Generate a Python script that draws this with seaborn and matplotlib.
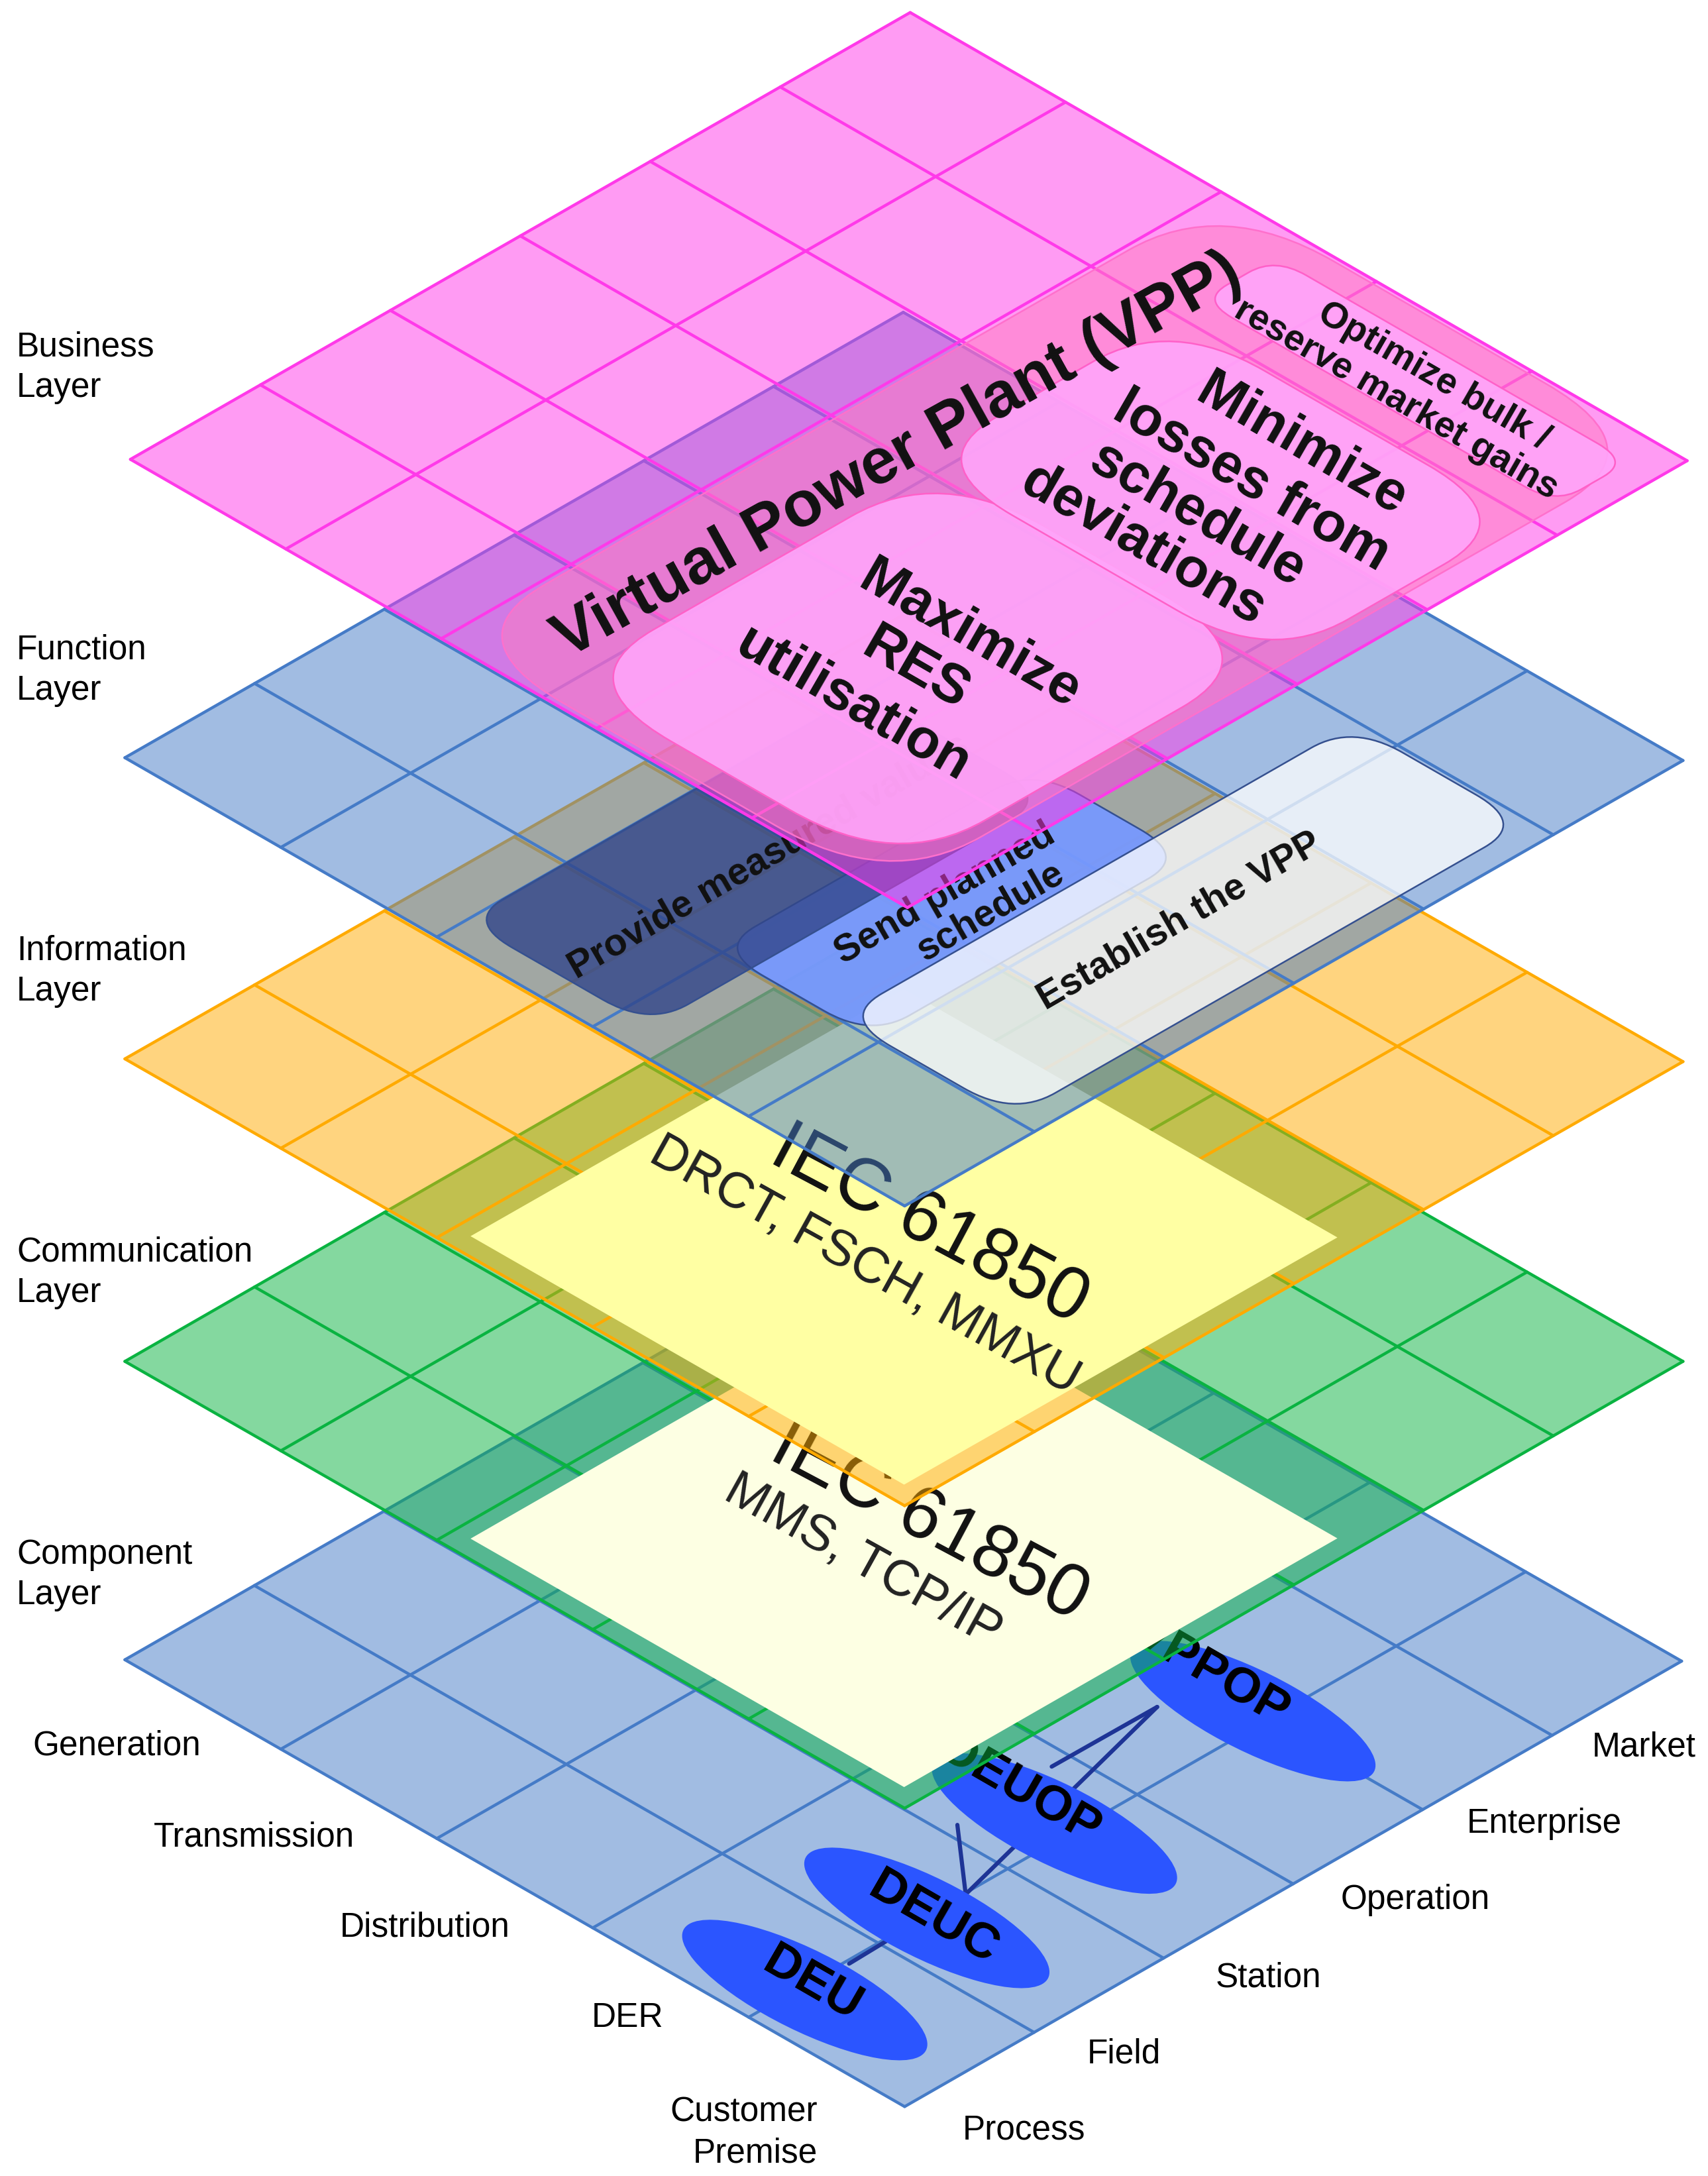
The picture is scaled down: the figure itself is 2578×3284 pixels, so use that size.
import matplotlib
matplotlib.use('Agg')
import matplotlib.pyplot as plt
import seaborn as sns
from matplotlib.patches import FancyBboxPatch, Ellipse, Polygon
from matplotlib.transforms import Affine2D

sns.set_theme(style='white')
plt.rcParams['font.family'] = ['Liberation Sans', 'DejaVu Sans']

# layers, from the bottom of the stack to the top
layer_names = ['Component\nLayer', 'Communication\nLayer', 'Information\nLayer', 'Function\nLayer', 'Business\nLayer']
layer_colors = ['#457BC7', '#0AB341', '#FFAA00', '#457BC7', '#FF39E9']
bottom_x = [652, 652, 652, 652, 654]
bottom_y = [1518, 1303, 1085, 869, 654]
right_x = [1212, 1213, 1213, 1213, 1216]
right_y = [1197, 981, 765, 548, 332]
left_x = [90, 90, 90, 90, 94]
left_y = [1196, 981, 763, 546, 331]
label_y = [1135, 917, 700, 483, 265]

n_zones = 6
n_domains = 5

domain_labels = ['Generation', 'Transmission', 'Distribution', 'DER']
domain_label_x = [84, 183, 306, 452]
domain_label_y = [1258, 1324, 1389, 1454]
zone_labels = ['Process', 'Field', 'Station', 'Operation', 'Enterprise', 'Market']
zone_label_x = [738, 810, 914, 1020, 1113, 1185]
zone_label_y = [1535, 1480, 1425, 1369, 1314, 1259]

# ellipses on the component layer
node_names = ['DEU', 'DEUC', 'DEUOP', 'VPPOP']
node_x = [580, 668, 760, 903]
node_y = [1434, 1382, 1314, 1233]
node_text_x = [585, 673, 735, 873]
node_text_y = [1430, 1382, 1290, 1205]
link_x = [[612, 640], [696, 834], [690, 696], [758, 834]]
link_y = [[1415, 1398], [1365, 1230], [1315, 1365], [1273, 1230]]

# boxes in grid units: zone from, zone to, domain from, domain to, corner radius
vpp_box = [0.04, 5.97, 0.16, 2.97, 0.72]
goal_boxes = [[0.2, 3.08, 0.24, 2.37, 0.68], [3.03, 4.97, 0.2, 2.46, 0.6], [5.2, 5.77, 0.18, 2.46, 0.2]]
goal_lines = ['Maximize', 'RES', 'utilisation', 'Minimize', 'losses from', 'schedule', 'deviations',
              'Optimize bulk /', 'reserve market gains']
goal_line_x = [699, 660, 615, 938, 902, 863, 824, 1033, 1006]
goal_line_y = [458, 482, 508, 321, 347, 371, 393, 271, 288]
goal_size = [60, 60, 60, 60, 60, 60, 60, 40, 40]
func_boxes = [[1.0, 3.44, 1.05, 2.04, 0.3], [0.22, 3.3, 1.82, 3.0, 0.3], [1.02, 4.97, 0.15, 1.26, 0.32]]
func_colors = ['#7799FF', '#32468A', '#FFFFFF']
func_alpha = [0.95, 0.8, 0.75]
func_lines = ['Send planned', 'schedule', 'Provide measured values', 'Establish the VPP']
func_line_x = [681, 714, 554, 850]
func_line_y = [644, 657, 617, 664]

# plain standard panels: zones, domains, first line, second line
std_box = [0.14, 3.48, 0.12, 2.9]
std_colors = ['#FDFFE3', '#FFFFA3']
std_title = 'IEC 61850'
std_detail = ['MMS, TCP/IP', 'DRCT, FSCH, MMXU']
std_title_y = [1097, 883]
std_detail_x = [622, 623]
std_detail_y = [1125, 912]

fig = plt.figure(figsize=(25.78, 32.84), dpi=100)
ax = fig.add_axes([0, 0, 1, 1])
ax.set_xlim(0, 1231)
ax.set_ylim(1568, 0)
ax.set_autoscale_on(False)
ax.axis('off')


def layer_tf(i):
    ez = ((right_x[i] - bottom_x[i]) / n_zones, (right_y[i] - bottom_y[i]) / n_zones)
    ed = ((left_x[i] - bottom_x[i]) / n_domains, (left_y[i] - bottom_y[i]) / n_domains)
    return Affine2D.from_values(ez[0], ez[1], ed[0], ed[1], bottom_x[i], bottom_y[i])


def round_box(i, box, zorder, **kw):
    tf = layer_tf(i) + ax.transData
    patch = FancyBboxPatch((box[0], box[2]), box[1] - box[0], box[3] - box[2],
                           boxstyle='round,pad=0,rounding_size=%s' % box[4],
                           transform=tf, zorder=zorder, **kw)
    ax.add_patch(patch)


for i in range(len(layer_names)):
    base = 10 * (i + 1)
    tf = layer_tf(i)
    color = layer_colors[i]
    ax.add_patch(Polygon([(0, 0), (n_zones, 0), (n_zones, n_domains), (0, n_domains)],
                         transform=tf + ax.transData, facecolor=color, alpha=0.5,
                         edgecolor='none', zorder=base))
    # grid lines
    for z in range(n_zones + 1):
        pts = tf.transform([(z, 0), (z, n_domains)])
        sns.lineplot(x=pts[:, 0], y=pts[:, 1], ax=ax, color=color, linewidth=3.2, sort=False,
                     errorbar=None, legend=False, zorder=base + 1)
    for d in range(n_domains + 1):
        pts = tf.transform([(0, d), (n_zones, d)])
        sns.lineplot(x=pts[:, 0], y=pts[:, 1], ax=ax, color=color, linewidth=3.2, sort=False,
                     errorbar=None, legend=False, zorder=base + 1)
    ax.text(12, label_y[i], layer_names[i], fontsize=37, color='black', ha='left', va='center',
            linespacing=1.32, zorder=100)

# component layer nodes
for xs, ys in zip(link_x, link_y):
    sns.lineplot(x=xs, y=ys, ax=ax, color='#1E3496', linewidth=4.5, sort=False, errorbar=None,
                 legend=False, zorder=13)
tf0 = layer_tf(0)
for k in range(len(node_names)):
    centre = tf0.inverted().transform((node_x[k], node_y[k]))
    ax.add_patch(Ellipse(centre, 0.64, 1.48, transform=tf0 + ax.transData, facecolor='#2B55FF',
                         edgecolor='none', zorder=14))
    ax.text(node_text_x[k], node_text_y[k], node_names[k], fontsize=54, fontweight='bold', color='black',
            rotation=-30, rotation_mode='anchor', ha='center', va='center', zorder=15)

# standard panels on communication and information layers
for j, i in enumerate([1, 2]):
    base = 10 * (i + 1)
    ax.add_patch(Polygon([(std_box[0], std_box[2]), (std_box[1], std_box[2]),
                          (std_box[1], std_box[3]), (std_box[0], std_box[3])],
                         transform=layer_tf(i) + ax.transData, facecolor=std_colors[j],
                         edgecolor='none', zorder=base + 2))
    ax.text(670, std_title_y[j], std_title, fontsize=80, color='#111111', rotation=-28,
            rotation_mode='anchor', ha='center', va='center', zorder=base + 3)
    ax.text(std_detail_x[j], std_detail_y[j], std_detail[j], fontsize=55, color='#222222', rotation=-29,
            rotation_mode='anchor', ha='center', va='center', zorder=base + 3)

# function layer boxes
for k in range(len(func_boxes)):
    round_box(3, func_boxes[k], 42 + k, facecolor=func_colors[k] + '%02X' % int(func_alpha[k] * 255),
              edgecolor='#35508F', linewidth=1.8)
for k in range(len(func_lines)):
    ax.text(func_line_x[k], func_line_y[k], func_lines[k], fontsize=41, fontweight='bold', color='#111111',
            rotation=30, rotation_mode='anchor', ha='center', va='center', zorder=46)

# business layer boxes
round_box(4, vpp_box, 52, facecolor='#FF7CC080', edgecolor='#FF70CC', linewidth=1.8)
for k in range(len(goal_boxes)):
    round_box(4, goal_boxes[k], 53, facecolor='#FFA5FAE6', edgecolor='#FF60C8', linewidth=1.8)
for k in range(len(goal_lines)):
    ax.text(goal_line_x[k], goal_line_y[k], goal_lines[k], fontsize=goal_size[k], fontweight='bold',
            color='#111111', rotation=-30, rotation_mode='anchor', ha='center', va='center', zorder=54)
ax.text(647, 329, 'Virtual Power Plant (VPP)', fontsize=70, fontweight='bold', color='#111111', rotation=29,
        rotation_mode='anchor', ha='center', va='center', zorder=54)

# axis labels
for name, x, y in zip(domain_labels, domain_label_x, domain_label_y):
    ax.text(x, y, name, fontsize=37, ha='center', va='center', color='black', zorder=100)
for name, x, y in zip(zone_labels, zone_label_x, zone_label_y):
    ax.text(x, y, name, fontsize=37, ha='center', va='center', color='black', zorder=100)
ax.text(589, 1537, 'Customer\nPremise', fontsize=37, ha='right', va='center', multialignment='right',
        linespacing=1.32, color='black', zorder=100)

fig.savefig('out.png', dpi=100, facecolor='white')
